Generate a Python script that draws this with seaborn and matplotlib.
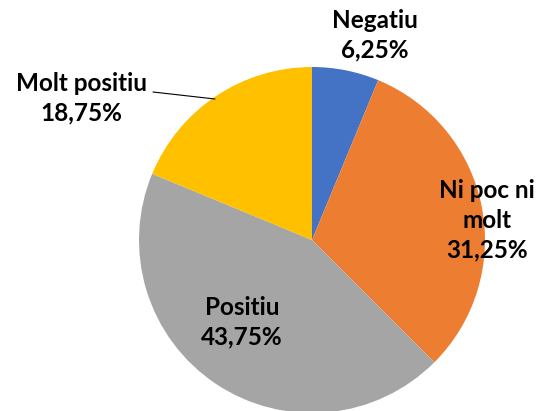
import matplotlib
matplotlib.use("Agg")
import matplotlib.pyplot as plt
import seaborn as sns

categories = ["Negatiu", "Ni poc ni molt", "Positiu", "Molt positiu"]
values = [6.25, 31.25, 43.75, 18.75]
label_texts = ["Negatiu\n6,25%", "Ni poc ni\nmolt\n31,25%", "Positiu\n43,75%", "Molt positiu\n18,75%"]
colors = ["#4472C4", "#ED7D31", "#A5A5A5", "#FFC000"]

sns.set_theme(style="white")
plt.rcParams['font.family'] = ['Lato', 'DejaVu Sans']

W, H = 545, 411
fig = plt.figure(figsize=(W / 100, H / 100), dpi=100)
ax = fig.add_axes([0, 0, 1, 1])

cx, cy, r = 312, H - 240, 173
ax.pie(values, colors=colors, startangle=90, counterclock=False,
       center=(cx, cy), radius=r, frame=True,
       wedgeprops=dict(linewidth=0))
ax.set_xlim(0, W)
ax.set_ylim(0, H)
ax.axis("off")

label_pos = [(375, H - 35), (487, H - 220), (242, H - 322), (81, H - 98)]
for txt, (x, y) in zip(label_texts, label_pos):
    ax.text(x, y, txt, ha="center", va="center", fontsize=17.5,
            fontweight="bold", color="black", linespacing=1.36)

ax.plot([153, 215], [H - 92, H - 99], color="black", linewidth=0.8)

fig.savefig("out.png", dpi=100)
